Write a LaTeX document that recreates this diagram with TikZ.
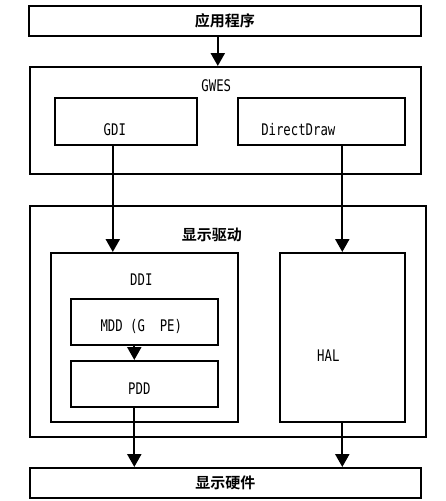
\documentclass[tikz,border=0pt]{standalone}
\usepackage{fontspec}
\usepackage{graphicx}
\usepackage{tikz}
\usetikzlibrary{positioning}
\usetikzlibrary{arrows.meta}
\newfontfamily\latinfont{DejaVu Sans Mono}
\newfontfamily\cjkfont{Noto Sans CJK SC}[BoldFont=* Bold]
\newcommand{\tall}[1]{\scalebox{1}[1.3]{#1}}
\tikzset{
    layer diagram/.style={
            x=1pt,y=-1pt,
            box/.style={draw,line width=1.6pt,inner sep=0pt,anchor=north west},
            lbl/.style={font=\latinfont\fontsize{12.3}{14}\selectfont,inner sep=0pt},
            cn/.style={font=\cjkfont\bfseries\fontsize{15}{17}\selectfont,inner sep=0pt},
            arrow/.style={-{Triangle[width=14pt,length=13pt]},line width=2.3pt}
        }
    }
\begin{document}
\begin{tikzpicture}[layer diagram]
        \useasboundingbox (0,0) rectangle (446,501);

        \node (app) [box,minimum width=392pt,minimum height=30pt] at (28,5) {};
        \node [cn] at (app.center) {应用程序};
        \node (gwes) [box,minimum width=391pt,minimum height=107pt] at (29,66) {};
        \node [lbl] at ([shift={(-9,20)}]gwes.north) {\tall{GWES}};
        \node (gdi) [box,minimum width=142pt,minimum height=47pt] at (54,97) {};
        \node [lbl] at ([shift={(-11,8)}]gdi.center) {\tall{GDI}};
        \node (ddraw) [box,minimum width=167pt,minimum height=47pt] at (237,97) {};
        \node [lbl] at ([shift={(-23,8)}]ddraw.center) {\tall{DirectDraw}};

        \node (drv) [box,minimum width=396pt,minimum height=231pt] at (29,205) {};
        \node [cn] at ([shift={(-16,30)}]drv.north) {显示驱动};
        \node (ddi) [box,minimum width=187pt,minimum height=169pt] at (50,252) {};
        \node [lbl] at ([shift={(-3,28)}]ddi.north) {\tall{DDI}};
        \node (mdd) [box,minimum width=147pt,minimum height=46pt] at (70,298) {};
        \node [lbl] at ([shift={(-3,5)}]mdd.center) {\tall{MDD (G\ \ PE)}};
        \node (pdd) [box,minimum width=147pt,minimum height=46pt] at (70,360) {};
        \node [lbl] at ([shift={(-5,5)}]pdd.center) {\tall{PDD}};
        \node (hal) [box,minimum width=125pt,minimum height=169pt] at (279,252) {};
        \node [lbl] at ([shift={(-14,18)}]hal.center) {\tall{HAL}};

        \node (hw) [box,minimum width=391pt,minimum height=30pt] at (29,467) {};
        \node [cn] at (hw.center) {显示硬件};

        \draw [arrow] ([xshift=-7pt]app.south) -- ([xshift=-7pt]app.south |- gwes.north);
        \draw [arrow] ([xshift=-13pt]gdi.south) -- ([xshift=-13pt]gdi.south |- ddi.north);
        \draw [arrow] (ddraw.south -| hal.north) -- (hal.north);
        \draw [arrow] ([xshift=-10pt]mdd.south) -- ([xshift=-10pt]mdd.south |- pdd.north);
        \draw [arrow] ([xshift=-10pt]pdd.south) -- ([xshift=-10pt]pdd.south |- hw.north);
        \draw [arrow] (hal.south) -- (hal.south |- hw.north);
    \end{tikzpicture}
\end{document}
